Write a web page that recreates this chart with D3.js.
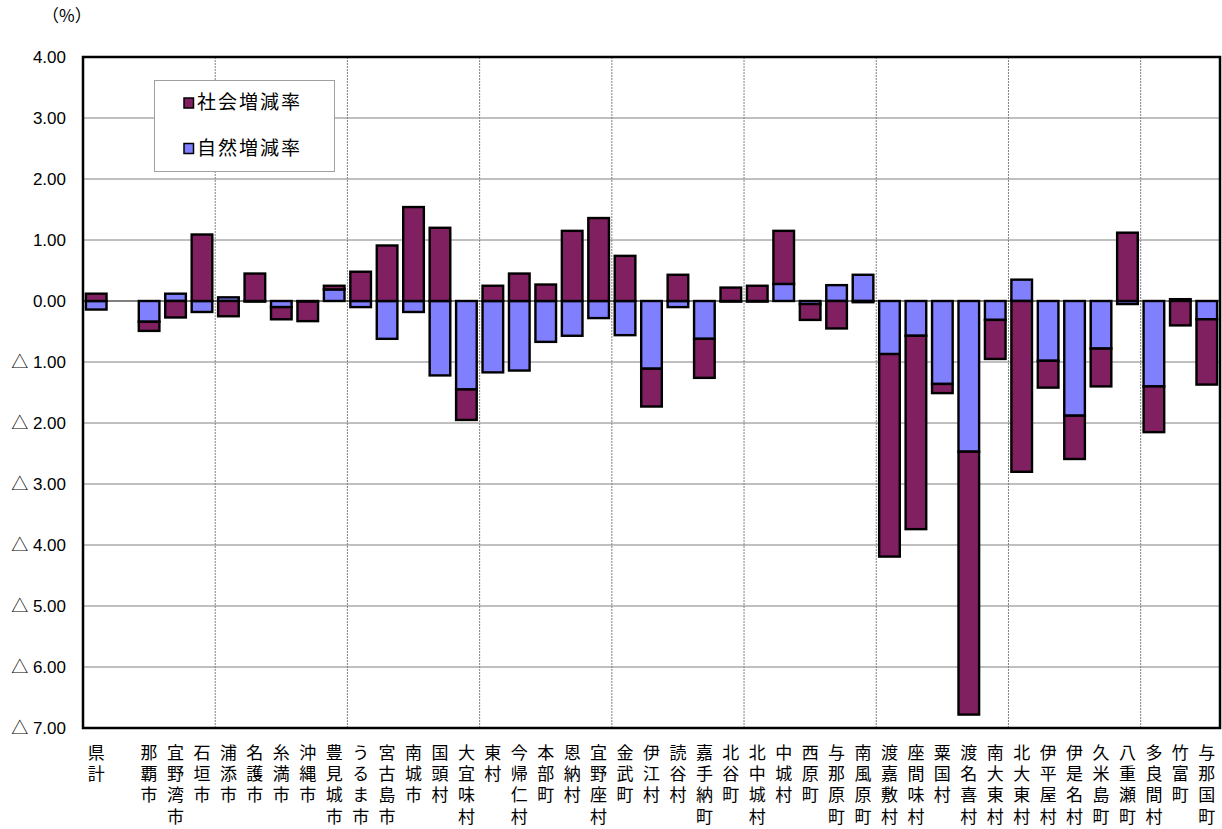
<!DOCTYPE html>
<html><head><meta charset="utf-8">
<script src="https://cdn.jsdelivr.net/npm/d3@7"></script>
<style>
html,body{margin:0;padding:0;background:#fff;}
svg{display:block;}
</style></head>
<body>
<svg id="chart" width="1222" height="829"></svg>
<script>
const categories = ["県計","","那覇市","宜野湾市","石垣市","浦添市","名護市","糸満市","沖縄市","豊見城市","うるま市","宮古島市","南城市","国頭村","大宜味村","東村","今帰仁村","本部町","恩納村","宜野座村","金武町","伊江村","読谷村","嘉手納町","北谷町","北中城村","中城村","西原町","与那原町","南風原町","渡嘉敷村","座間味村","粟国村","渡名喜村","南大東村","北大東村","伊平屋村","伊是名村","久米島町","八重瀬町","多良間村","竹富町","与那国町"];
const naturalRate = [-0.14,null,-0.34,0.12,-0.18,0.06,-0.01,-0.10,-0.01,0.19,-0.10,-0.62,-0.18,-1.22,-1.45,-1.17,-1.14,-0.67,-0.57,-0.28,-0.56,-1.11,-0.10,-0.62,-0.01,-0.01,0.28,-0.05,0.26,0.43,-0.87,-0.57,-1.36,-2.47,-0.31,0.35,-0.98,-1.88,-0.78,-0.05,-1.40,0.03,-0.30];
const socialRate = [0.12,null,-0.15,-0.27,1.09,-0.25,0.45,-0.20,-0.32,0.06,0.48,0.91,1.54,1.20,-0.50,0.25,0.45,0.27,1.15,1.36,0.74,-0.62,0.43,-0.64,0.22,0.25,0.87,-0.26,-0.45,-0.02,-3.32,-3.17,-0.15,-4.31,-0.64,-2.80,-0.44,-0.71,-0.62,1.12,-0.75,-0.40,-1.07];
const seriesNames = ["自然増減率","社会増減率"];
const legendOrder = ["社会増減率","自然増減率"];
const yTicks = [4,3,2,1,0,-1,-2,-3,-4,-5,-6,-7];
const unitLabel = "（%）";

const colors = {"社会増減率":"#802060","自然増減率":"#8080FF"};

const svg = d3.select("#chart");
const m = {left:83, right:1220, top:57, bottom:728};

const rows = categories.map((c,i)=>({idx:i, name:c, "自然増減率":naturalRate[i]||0, "社会増減率":socialRate[i]||0}));

const x = d3.scaleBand().domain(rows.map(d=>d.idx)).range([m.left,m.right]).paddingInner(0.22).paddingOuter(0.11);
const y = d3.scaleLinear().domain([-7,4]).range([m.bottom,m.top]);
const step = (m.right-m.left)/categories.length;

// horizontal gridlines
svg.append("g").selectAll("line").data(yTicks.filter(t=>t!==0 && t!==4 && t!==-7)).join("line")
  .attr("x1",m.left).attr("x2",m.right).attr("y1",d=>y(d)).attr("y2",d=>y(d))
  .attr("stroke","#808080").attr("stroke-width",1);

// vertical dashed lines every 5 categories
const vIdx = d3.range(5, categories.length, 5);
svg.append("g").selectAll("line").data(vIdx).join("line")
  .attr("x1",d=>m.left+d*step).attr("x2",d=>m.left+d*step)
  .attr("y1",m.top).attr("y2",m.bottom)
  .attr("stroke","#808080").attr("stroke-width",1).attr("stroke-dasharray","2,1");

// legend box
const lg = svg.append("g");
lg.append("rect").attr("x",154.5).attr("y",80.5).attr("width",180).attr("height",91)
  .attr("fill","#fff").attr("stroke","#a0a0a0").attr("stroke-width",1);
legendOrder.forEach((k,i)=>{
  const yy = 98 + i*45.5;
  lg.append("rect").attr("x",184).attr("y",yy).attr("width",9.5).attr("height",10)
    .attr("fill",colors[k]).attr("stroke","#000").attr("stroke-width",1.5);
  lg.append("text").attr("x",197).attr("y",yy+11).text(k)
    .attr("font-family","'Noto Sans CJK JP'").attr("font-size",19).attr("letter-spacing","2px").attr("fill","#000");
});

// stacked bars
const stack = d3.stack().keys(seriesNames).offset(d3.stackOffsetDiverging);
const stacked = stack(rows);
svg.append("g").selectAll("g").data(stacked).join("g")
  .attr("fill",d=>colors[d.key])
  .selectAll("rect").data(d=>d.filter(p=>p[1]!==p[0])).join("rect")
  .attr("x",d=>x(d.data.idx)).attr("width",x.bandwidth())
  .attr("y",d=>y(Math.max(d[0],d[1]))).attr("height",d=>Math.abs(y(d[0])-y(d[1])))
  .attr("stroke","#000").attr("stroke-width",2.4);

// zero line
svg.append("line").attr("x1",m.left).attr("x2",m.right).attr("y1",y(0)).attr("y2",y(0))
  .attr("stroke","#000").attr("stroke-width",1);

// frame
svg.append("rect").attr("x",m.left).attr("y",m.top).attr("width",m.right-m.left).attr("height",m.bottom-m.top)
  .attr("fill","none").attr("stroke","#000").attr("stroke-width",2.5);

// y axis labels
const fmt = v => v<0 ? "△ " + Math.abs(v).toFixed(2) : v.toFixed(2);
svg.append("g").selectAll("text").data(yTicks).join("text")
  .attr("x",66).attr("y",d=>y(d)+6).attr("text-anchor","end")
  .attr("font-family","'Liberation Sans','Noto Sans CJK JP'").attr("font-size",17).attr("fill","#000")
  .text(fmt);

svg.append("text").attr("x",42).attr("y",22).text(unitLabel)
  .attr("font-family","'Noto Sans CJK JP'").attr("font-size",17).attr("fill","#000");

// x category labels: vertical writing, one text per category
const xl = svg.append("g").attr("font-family","'Noto Sans CJK JP'").attr("font-size",17).attr("fill","#000");
rows.filter(r=>r.name).forEach(r=>{
  const cx = x(r.idx)+x.bandwidth()/2;
  xl.append("text").attr("x",cx).attr("y",744)
    .style("writing-mode","vertical-rl").style("text-orientation","upright")
    .attr("letter-spacing","4.2px")
    .text(r.name);
});
</script>
</body></html>
